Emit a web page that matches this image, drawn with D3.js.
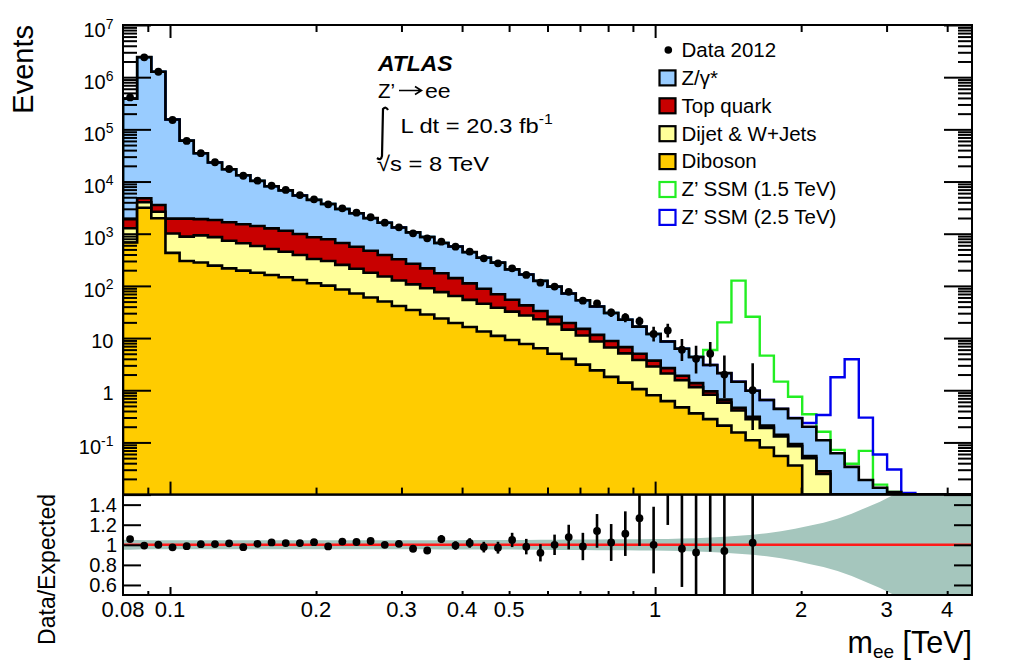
<!DOCTYPE html>
<html><head><meta charset="utf-8">
<script src="https://cdn.jsdelivr.net/npm/d3@7"></script>
<style>
body{margin:0;background:#fff;overflow:hidden}
svg{display:block}
text{font-family:"Liberation Sans",Arial,Helvetica,sans-serif;fill:#000}
</style>
</head><body>
<svg id="c" width="1024" height="661"></svg>
<script>
// ---------------- data ----------------
const massMin = 0.08, massMax = 4.5, nBins = 60;

const dataCounts = [410000,2400000,1270000,151000,60000,35000,23400,17400,12900,10400,
  8300,6900,5500,4570,3660,3070,2530,2066,1625,1327,
  1019,817,703,564,452,338,271,217,162,115,
  97,77,52,46,31,25,21,12,14,6,
  4,5,2,0,1,0,0,0,0,0,
  0,0,0,0,0,0,0,0,0,0];

const diboson = [680,3150,1980,430,300,280,245,217,196,179,
  162,146,130,112,101,85.3,71.5,60,50.2,41.2,
  34.5,28.3,23.7,19.5,16.3,13.4,11,9.2,7.7,6.4,
  5.0,4.0,3.1,2.4,1.8,1.4,1.05,0.8,0.62,0.47,
  0.36,0.28,0.21,0.155,0.11,0.08,0.055,0.036,0.006,0.003,
  0.001,0.0005,0,0,0,0,0,0,0,0];

const dijetWJets = [590,850,660,580,580,650,615,518,459,403,
  347,306,261,215,199,167,142,119,101,86,
  72.5,62,52.3,44.5,37.6,32,27.2,22.9,19.4,16.5,
  13.5,10.5,8.1,6.2,4.8,3.7,2.75,2.05,1.48,1.08,
  0.79,0.54,0.37,0.255,0.17,0.11,0.075,0.049,0.044,0.022,
  0.007,0.0025,0.001,0.0005,0.0002,0,0,0,0,0];

const topQuark = [630,770,910,940,1070,970,970,921,859,824,
  759,690,597,526,482,412,348,292,240,197,
  158,126,99,77,58,42.6,30.8,22.1,15.2,10.1,
  7.0,5.0,3.8,2.9,2.2,1.6,1.2,0.85,0.55,0.35,
  0.22,0.13,0.08,0.05,0.03,0.02,0.01,0.008,0.005,0.003,
  0.0008,0.0003,0.0001,0,0,0,0,0,0,0];

const zGammaStar = [386000,2415000,1266000,153000,58900,32900,21400,15500,11700,8890,
  6840,5640,4420,3600,2940,2310,1900,1520,1234,990,
  796,650,490,427,332,258,210,152.8,122.7,92,
  71.5,52,37.9,28.9,21.5,15.8,11.6,8.3,5.95,4.34,
  2.96,2.1,1.47,0.99,0.67,0.44,0.3,0.197,0.145,0.082,
  0.0532,0.0307,0.0179,0.013,0.011,0.004,0.002,0.001,0.0005,0.0003];

const zprime1500 = [0,0,0,0,0,0,0,0,0,0, 0,0,0,0,0,0,0,0,0,0,
  0,0,0,0,0,0,0,0,0,0, 0,0,0,0,0,0,0,0,0,0,
  0,2.85,17.9,124.5,24.7,3.95,1.02,0.46,0.146,0.05,
  0.01,0.005,0.05,0.002,0,0,0,0,0,0];

const zprime2500 = [0,0,0,0,0,0,0,0,0,0, 0,0,0,0,0,0,0,0,0,0,
  0,0,0,0,0,0,0,0,0,0, 0,0,0,0,0,0,0,0,0,0,
  0,0,0,0,0,0,0,0.005,0.035,0.226,
  1.71,3.89,0.28,0.045,0.019,0.0068,0.002,0,0,0];

const ratioBand = [0.05,0.045,0.045,0.045,0.045,0.045,0.045,0.045,0.045,0.045,
  0.045,0.045,0.045,0.045,0.045,0.045,0.045,0.045,0.045,0.045,
  0.045,0.045,0.046,0.046,0.047,0.047,0.048,0.048,0.049,0.05,
  0.051,0.052,0.053,0.054,0.055,0.055,0.056,0.057,0.059,0.062,
  0.066,0.072,0.08,0.09,0.1,0.115,0.135,0.16,0.19,0.22,
  0.26,0.31,0.37,0.43,0.5,0.58,0.7,0.8,0.9,1.0];

const xTickValues = [0.08,0.1,0.2,0.3,0.4,0.5,1,2,3,4];
const xTickLabels = ["0.08","0.1","0.2","0.3","0.4","0.5","1","2","3","4"];
const xMajorTicks = [0.1,1];
const xMinorTicks = [0.09,0.2,0.3,0.4,0.5,0.6,0.7,0.8,0.9,2,3,4];
const yTickValues = [1e7,1e6,1e5,1e4,1e3,1e2,10,1,0.1];
const yTickLabels = ["10^7","10^6","10^5","10^4","10^3","10^2","10","1","10^-1"];
const ratioTickValues = [0.6,0.8,1,1.2,1.4];
const ratioTickLabels = ["0.6","0.8","1","1.2","1.4"];
const legendLabels = ["Data 2012","Z/γ*","Top quark","Dijet & W+Jets","Diboson","Z’ SSM (1.5 TeV)","Z’ SSM (2.5 TeV)"];

// Poisson (Garwood 68%) intervals for small counts
const garwood = [[0,1.841],[0.173,3.300],[0.708,4.638],[1.367,5.918],[2.086,7.163],[2.840,8.382],
  [3.620,9.584],[4.419,10.77],[5.232,11.95],[6.057,13.11],[6.891,14.27],[7.734,15.42],[8.585,16.56],
  [9.441,17.70],[10.30,18.83],[11.17,19.96],[12.04,21.08],[12.92,22.20],[13.80,23.32],[14.68,24.44],[15.57,25.55]];
function poisson(n){ return n < garwood.length ? garwood[n] : [n-Math.sqrt(n), n+Math.sqrt(n)]; }

// ---------------- layout ----------------
const colors = {dy:"#99ccff", top:"#c80000", dijet:"#ffff99", diboson:"#ffcc00",
  z1500:"#22ee22", z2500:"#0000ee", band:"#a5c6bd", line:"#ff1a1a"};
const L=123, R=972, T=25, B=494.6, RB=595;
const svg = d3.select("#c");

const x = d3.scaleLog().domain([massMin, massMax]).range([L, R]);
const y = d3.scaleLog().domain([0.01, 1e7]).range([B, T]).clamp(true);
const yr = d3.scaleLinear().domain([0.5, 1.5]).range([RB, B]);

const edges = d3.range(nBins+1).map(i => massMin*Math.pow(massMax/massMin, i/nBins));
const centers = d3.range(nBins).map(i => Math.sqrt(edges[i]*edges[i+1]));

const defs = svg.append("defs");
defs.append("clipPath").attr("id","clipMain").append("rect")
  .attr("x",L).attr("y",T).attr("width",R-L).attr("height",B-T);
defs.append("clipPath").attr("id","clipRatio").append("rect")
  .attr("x",L).attr("y",B).attr("width",R-L).attr("height",RB-B);

const rows = d3.range(nBins).map(i => ({diboson:diboson[i], dijet:dijetWJets[i], top:topQuark[i], dy:zGammaStar[i]}));
const keys = ["diboson","dijet","top","dy"];
const stacked = d3.stack().keys(keys)(rows);
const total = stacked[3].map(d => d[1]);

const yv = v => y(Math.max(v, 1e-6));
function stepPath(vals){
  let p = `M${x(edges[0])},${B+6}`;
  vals.forEach((v,i)=>{ const yy = yv(v); p += `L${x(edges[i])},${yy}L${x(edges[i+1])},${yy}`; });
  p += `L${x(edges[nBins])},${B+6}`;
  return p;
}

// ---------------- main panel ----------------
const gMain = svg.append("g").attr("clip-path","url(#clipMain)");
for (let k = 3; k >= 0; k--) {
  const vals = stacked[k].map(d => d[1]);
  gMain.append("path").attr("d", stepPath(vals)).attr("fill", colors[keys[k]]).attr("stroke","none");
  if (k === 3) {
    gMain.append("path").attr("d", stepPath(total.map((t,i)=>t+zprime1500[i])))
      .attr("fill","none").attr("stroke",colors.z1500).attr("stroke-width",2.4);
    gMain.append("path").attr("d", stepPath(total.map((t,i)=>t+zprime2500[i])))
      .attr("fill","none").attr("stroke",colors.z2500).attr("stroke-width",2.4);
  }
  gMain.append("path").attr("d", stepPath(vals)).attr("fill","none")
    .attr("stroke","#000").attr("stroke-width",2.6).attr("stroke-linejoin","miter");
}

const pts = d3.range(nBins).filter(i => dataCounts[i] > 0).map(i => {
  const n = dataCounts[i], [lo, hi] = poisson(n);
  return {m:centers[i], n, lo, hi, r:n/total[i], rlo:lo/total[i], rhi:hi/total[i]};
});
const gData = svg.append("g").attr("clip-path","url(#clipMain)");
gData.selectAll("line.err").data(pts).join("line")
  .attr("x1",d=>x(d.m)).attr("x2",d=>x(d.m))
  .attr("y1",d=>yv(d.lo)).attr("y2",d=>yv(d.hi))
  .attr("stroke","#000").attr("stroke-width",2.6);
gData.selectAll("circle").data(pts).join("circle")
  .attr("cx",d=>x(d.m)).attr("cy",d=>y(d.n)).attr("r",3.9).attr("fill","#000");

// ---------------- ratio panel ----------------
const gRatio = svg.append("g").attr("clip-path","url(#clipRatio)");
const bandData = [{m:massMin,h:ratioBand[0]}].concat(centers.map((c,i)=>({m:c,h:ratioBand[i]})), [{m:massMax,h:ratioBand[nBins-1]}]);
gRatio.append("path").datum(bandData)
  .attr("d", d3.area().x(d=>x(d.m)).y0(d=>yr(1-d.h)).y1(d=>yr(1+d.h)))
  .attr("fill", colors.band);
gRatio.append("path").datum([massMin, massMax])
  .attr("d", d3.line().x(d=>x(d)).y(()=>yr(1)))
  .attr("stroke", colors.line).attr("stroke-width",2.6).attr("fill","none");
gRatio.selectAll("line.err").data(pts).join("line")
  .attr("x1",d=>x(d.m)).attr("x2",d=>x(d.m))
  .attr("y1",d=>yr(d.rlo)).attr("y2",d=>yr(d.rhi))
  .attr("stroke","#000").attr("stroke-width",2.6);
gRatio.selectAll("circle").data(pts).join("circle")
  .attr("cx",d=>x(d.m)).attr("cy",d=>yr(d.r)).attr("r",3.9).attr("fill","#000");

// ---------------- axes / ticks ----------------
function clean(g){ g.select(".domain").remove(); g.selectAll("text").remove();
  g.selectAll("line").attr("stroke","#000").attr("stroke-width",2); }
const yMinor = [];
for (let e = -2; e < 7; e++) for (let m = 2; m <= 9; m++) yMinor.push(m*Math.pow(10,e));
const yMajor = d3.range(-2,8).map(e => Math.pow(10,e));

svg.append("g").attr("transform",`translate(${L},0)`).call(d3.axisLeft(y).tickValues(yMajor).tickSize(-28)).call(clean);
svg.append("g").attr("transform",`translate(${L},0)`).call(d3.axisLeft(y).tickValues(yMinor).tickSize(-14)).call(clean);
svg.append("g").attr("transform",`translate(${R},0)`).call(d3.axisRight(y).tickValues(yMajor).tickSize(-28)).call(clean);
svg.append("g").attr("transform",`translate(${R},0)`).call(d3.axisRight(y).tickValues(yMinor).tickSize(-14)).call(clean);
svg.append("g").attr("transform",`translate(0,${T})`).call(d3.axisTop(x).tickValues(xMajorTicks).tickSize(-13)).call(clean);
svg.append("g").attr("transform",`translate(0,${T})`).call(d3.axisTop(x).tickValues(xMinorTicks).tickSize(-7)).call(clean);
svg.append("g").attr("transform",`translate(0,${B})`).call(d3.axisBottom(x).tickValues(xMajorTicks).tickSize(-13)).call(clean);
svg.append("g").attr("transform",`translate(0,${B})`).call(d3.axisBottom(x).tickValues(xMinorTicks).tickSize(-7)).call(clean);

svg.append("g").attr("transform",`translate(${L},0)`).call(d3.axisLeft(yr).tickValues(ratioTickValues).tickSize(-18)).call(clean);
svg.append("g").attr("transform",`translate(${R},0)`).call(d3.axisRight(yr).tickValues(ratioTickValues).tickSize(-18)).call(clean);
svg.append("g").attr("transform",`translate(0,${RB})`).call(d3.axisBottom(x).tickValues(xMajorTicks).tickSize(-8)).call(clean);
svg.append("g").attr("transform",`translate(0,${RB})`).call(d3.axisBottom(x).tickValues(xMinorTicks).tickSize(-4)).call(clean);

// frames
svg.append("rect").attr("x",L).attr("y",T).attr("width",R-L).attr("height",B-T)
  .attr("fill","none").attr("stroke","#000").attr("stroke-width",2);
svg.append("rect").attr("x",L).attr("y",B).attr("width",R-L).attr("height",RB-B)
  .attr("fill","none").attr("stroke","#000").attr("stroke-width",2);

// tick labels
yTickValues.forEach((v,i) => {
  const parts = yTickLabels[i].split("^");
  const t = svg.append("text").attr("x",113.5).attr("text-anchor","end").attr("font-size",20)
    .attr("y", y(v) + (parts.length > 1 ? 11.5 : 9.5));
  t.append("tspan").text(parts[0]);
  if (parts.length > 1) t.append("tspan").attr("dy",-8).attr("font-size",14).text(parts[1]);
});
ratioTickValues.forEach((v,i) => {
  svg.append("text").attr("x",117).attr("y",yr(v)+7.5).attr("text-anchor","end")
    .attr("font-size",20).text(ratioTickLabels[i]);
});
xTickValues.forEach((v,i) => {
  svg.append("text").attr("x",x(v)).attr("y",617).attr("text-anchor","middle")
    .attr("font-size",22).text(xTickLabels[i]);
});

// axis titles
svg.append("text").attr("transform","translate(33,25) rotate(-90)").attr("text-anchor","end")
  .attr("font-size",29).text("Events");
svg.append("text").attr("transform","translate(55,494) rotate(-90)").attr("text-anchor","end")
  .attr("font-size",23).text("Data/Expected");
const xt = svg.append("text").attr("x",R).attr("y",653).attr("text-anchor","end").attr("font-size",30.5);
xt.append("tspan").text("m");
xt.append("tspan").attr("font-size",19).attr("dy",5).text("ee");
xt.append("tspan").attr("dy",-5).text(" [TeV]");

// ATLAS block
svg.append("text").attr("transform","translate(378,70.5) scale(1.04,1)").attr("font-size",22)
  .attr("font-weight","bold").attr("font-style","italic").text("ATLAS");
svg.append("text").attr("x",378).attr("y",98.3).attr("font-size",20.5).text("Z’");
svg.append("path").attr("d","M399,90.5 H421 M415,86.5 L421.5,90.5 L415,94.5")
  .attr("fill","none").attr("stroke","#000").attr("stroke-width",1.6);
svg.append("text").attr("transform","translate(425,98.3) scale(1.1,1)").attr("font-size",21).text("ee");
svg.append("path").attr("d","M388,110 Q386,106 383,109 L382,156 Q381,161 377,158")
  .attr("fill","none").attr("stroke","#000").attr("stroke-width",2.2);
const lum = svg.append("text").attr("transform","translate(400.5,132.7) scale(1.13,1)").attr("font-size",21);
lum.append("tspan").text("L dt = 20.3 fb");
lum.append("tspan").attr("dy",-9).attr("font-size",14).text("-1");
svg.append("text").attr("transform","translate(377,170.7) scale(1.13,1)").attr("font-size",21).text("√s = 8 TeV");

// legend
const legY = d3.range(legendLabels.length).map(i => 50 + 27.9*i);
svg.append("circle").attr("cx",668.3).attr("cy",legY[0]).attr("r",3.8).attr("fill","#000");
const boxFill = [null, colors.dy, colors.top, colors.dijet, colors.diboson, "#fff", "#fff"];
const boxStroke = [null, "#000","#000","#000","#000", colors.z1500, colors.z2500];
legendLabels.forEach((lab,i) => {
  if (i > 0) svg.append("rect").attr("x",659.5).attr("y",legY[i]-7.5).attr("width",16).attr("height",15)
    .attr("fill",boxFill[i]).attr("stroke",boxStroke[i]).attr("stroke-width",2.2);
  svg.append("text").attr("x",681.5).attr("y",legY[i]+6.8).attr("font-size",20.5).text(lab);
});
</script>
</body></html>
